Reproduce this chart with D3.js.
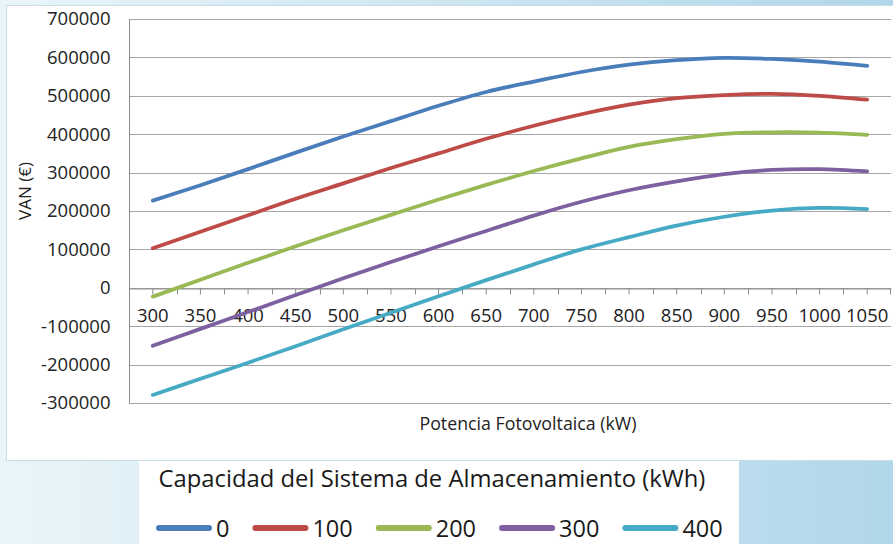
<!DOCTYPE html>
<html>
<head>
<meta charset="utf-8">
<script src="https://cdn.jsdelivr.net/npm/d3@7"></script>
<style>
  html, body { margin: 0; padding: 0; background: #ffffff; }
  svg { display: block; font-family: "Open Sans", Lato, sans-serif; }
</style>
</head>
<body>
<svg id="chart" width="893" height="544"></svg>
<script>
// Potencia fotovoltaica (kW)
const categories = [300, 350, 400, 450, 500, 550, 600, 650, 700, 750, 800, 850, 900, 950, 1000, 1050];

// Capacidad del sistema de almacenamiento (kWh)
const capacities = ["0", "100", "200", "300", "400"];

// VAN (€) for each storage capacity
const van0   = [227000, 267000, 309000, 352000, 394000, 434000, 474000, 510000, 537000, 562000, 581000, 593000, 599000, 596000, 589000, 578000];
const van100 = [103000, 146000, 189000, 232000, 272000, 312000, 350000, 388000, 422000, 452000, 477000, 494000, 502000, 505000, 500000, 490000];
const van200 = [-23000, 21000, 65000, 108000, 150000, 190000, 230000, 268000, 304000, 337000, 367000, 387000, 401000, 405000, 404000, 398000];
const van300 = [-151000, -107000, -63000, -19000, 25000, 67000, 108000, 148000, 188000, 224000, 254000, 277000, 296000, 307000, 309000, 303000];
const van400 = [-279000, -237000, -195000, -152000, -108000, -65000, -22000, 20000, 61000, 100000, 132000, 162000, 185000, 201000, 208000, 205000];

const yTicks = [-300000, -200000, -100000, 0, 100000, 200000, 300000, 400000, 500000, 600000, 700000];

const seriesValues = [van0, van100, van200, van300, van400];
const palette = ["#4a7ebb", "#be4b48", "#98b954", "#7d60a0", "#46aac5"];

const svg = d3.select("#chart");
const W = 893, H = 544;
const FONT = "'Open Sans', Lato, sans-serif";

// ---- backdrop ----
const defs = svg.append("defs");
const grad = defs.append("linearGradient").attr("id", "bg").attr("x1", "0").attr("x2", "1").attr("y1", "0").attr("y2", "0");
grad.append("stop").attr("offset", "0").attr("stop-color", "#eaf5f9");
grad.append("stop").attr("offset", "1").attr("stop-color", "#b1d7ea");
svg.append("rect").attr("width", W).attr("height", H).attr("fill", "url(#bg)");

// chart panel
svg.append("rect").attr("x", 6.5).attr("y", 5.5).attr("width", W).attr("height", 455)
  .attr("fill", "#ffffff").attr("stroke", "#c9dde8").attr("stroke-width", 1);
// legend panel
svg.append("rect").attr("x", 139).attr("y", 461).attr("width", 600).attr("height", 90)
  .attr("fill", "#ffffff");

// ---- scales ----
const plot = { left: 129, right: 891, top: 19, bottom: 403 };
const x = d3.scaleBand().domain(categories).range([plot.left, plot.right]).padding(0);
const xc = c => x(c) + x.bandwidth() / 2;
const y = d3.scaleLinear().domain([d3.min(yTicks), d3.max(yTicks)]).range([plot.bottom, plot.top]);

// ---- gridlines ----
svg.append("g").selectAll("line").data(yTicks).join("line")
  .attr("x1", plot.left).attr("x2", plot.right)
  .attr("y1", d => Math.round(y(d)) + 0.5).attr("y2", d => Math.round(y(d)) + 0.5)
  .attr("stroke", "#a6a6a6").attr("stroke-width", 1);

// ---- value axis (plain hyphen for negatives) ----
const yAxis = svg.append("g").attr("transform", `translate(${plot.left + 0.5},0)`)
  .call(d3.axisLeft(y).tickValues(yTicks).tickSize(0).tickPadding(19).tickFormat(d => String(d)));
yAxis.select(".domain").attr("stroke", "#8c8c8c").attr("d", `M0,${plot.top}V${plot.bottom}`);
yAxis.selectAll("text").attr("font-size", 18.5).attr("fill", "#222").attr("font-family", FONT);

// ---- category axis, crossing at zero ----
const y0 = Math.round(y(0)) + 0.5;
const xAxis = svg.append("g").attr("transform", `translate(0,${y0})`)
  .call(d3.axisBottom(x).tickSizeInner(6).tickSizeOuter(0).tickPadding(14));
xAxis.select(".domain").attr("stroke", "#8c8c8c");
xAxis.selectAll(".tick line").attr("stroke", "#8c8c8c");
xAxis.selectAll("text").attr("font-size", 18.5).attr("fill", "#222").attr("font-family", FONT);
// tick marks on the category boundaries
xAxis.append("g").selectAll("line").data(categories.slice(1).concat([null])).join("line")
  .attr("x1", d => d === null ? plot.right - 0.5 : Math.round(x(d)) + 0.5)
  .attr("x2", d => d === null ? plot.right - 0.5 : Math.round(x(d)) + 0.5)
  .attr("y1", 0).attr("y2", 6).attr("stroke", "#8c8c8c");

// ---- axis titles ----
svg.append("text").attr("x", 528).attr("y", 430).attr("text-anchor", "middle")
  .attr("font-size", 17.8).attr("fill", "#222").text("Potencia Fotovoltaica (kW)");
svg.append("text").attr("transform", "translate(31,191) rotate(-90)").attr("text-anchor", "middle")
  .attr("font-size", 17).attr("fill", "#222").text("VAN (€)");

// ---- series ----
const line = d3.line()
  .x((d, i) => xc(categories[i]))
  .y(d => y(d))
  .curve(d3.curveCardinal.tension(0));
svg.append("g").selectAll("path").data(seriesValues).join("path")
  .attr("d", d => line(d))
  .attr("fill", "none")
  .attr("stroke", (d, i) => palette[i])
  .attr("stroke-width", 3.75)
  .attr("stroke-linecap", "round")
  .attr("stroke-linejoin", "round");

// ---- legend ----
svg.append("text").attr("x", 432).attr("y", 487).attr("text-anchor", "middle")
  .attr("font-size", 23.8).attr("fill", "#1a1a1a").text("Capacidad del Sistema de Almacenamiento (kWh)");

const legend = svg.append("g");
let cursor = 156;
capacities.forEach((name, i) => {
  legend.append("line")
    .attr("x1", cursor + 3).attr("x2", cursor + 53).attr("y1", 528).attr("y2", 528)
    .attr("stroke", palette[i]).attr("stroke-width", 6).attr("stroke-linecap", "round");
  const t = legend.append("text").attr("x", cursor + 60).attr("y", 536.5)
    .attr("font-size", 23.5).attr("fill", "#1a1a1a").text(name);
  cursor += 60 + t.node().getComputedTextLength() + 23;
});
</script>
</body>
</html>
